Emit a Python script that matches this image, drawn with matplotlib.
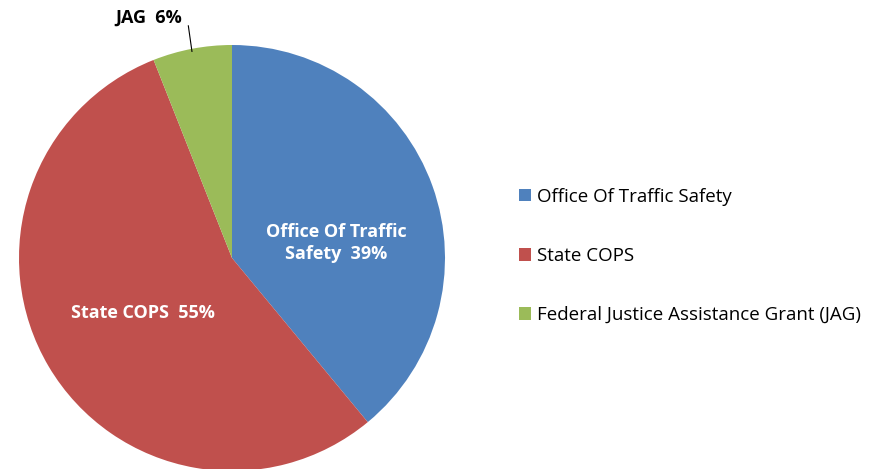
import matplotlib.pyplot as plt
from matplotlib.patches import Patch

labels = ["Office Of Traffic Safety", "State COPS", "Federal Justice Assistance Grant (JAG)"]
shares = [39, 55, 6]
colors = ["#4F81BD", "#C0504D", "#9BBB59"]

plt.rcParams['font.family'] = ['Open Sans', 'DejaVu Sans']

W, H = 882, 469
fig = plt.figure(figsize=(W / 100, H / 100), dpi=100)

# pie axes: centre (232, 258) px, radius 213 px
cx, cy, r = 232, 258, 213
ax = fig.add_axes([(cx - r) / W, (H - cy - r) / H, 2 * r / W, 2 * r / H])
ax.pie(shares, colors=colors, startangle=90, counterclock=False, radius=1,
       wedgeprops=dict(linewidth=0))
ax.set_xlim(-1, 1)
ax.set_ylim(-1, 1)
ax.set_aspect('equal')
ax.axis('off')

ax.text(0.49, 0.07, "Office Of Traffic\nSafety  39%", color="white", fontsize=13,
        fontweight="bold", ha="center", va="center", linespacing=1.3)
ax.text(-0.42, -0.26, "State COPS  55%", color="white", fontsize=13,
        fontweight="bold", ha="center", va="center")
ax.text(-0.39, 1.13, "JAG  6%", color="black", fontsize=13,
        fontweight="bold", ha="center", va="center", clip_on=False)
ax.plot([-0.205, -0.188], [1.09, 0.97], color="black", lw=0.8, clip_on=False)

handles = [Patch(facecolor=c, edgecolor='none') for c in colors]
fig.legend(handles, labels, loc="center left", bbox_to_anchor=(502 / W, (H - 256) / H),
           frameon=False, fontsize=13.5, labelspacing=2.2, handlelength=0.65,
           handleheight=0.65, handletextpad=0.3)

fig.savefig("out.png", dpi=100)
